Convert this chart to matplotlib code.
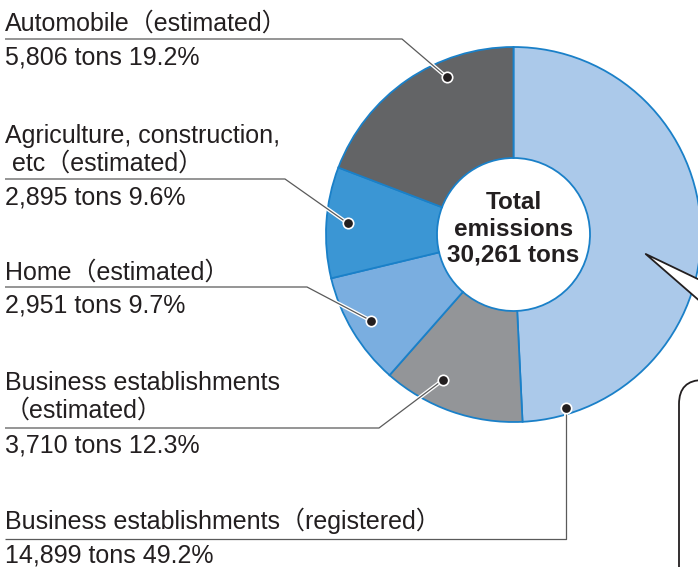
import matplotlib
matplotlib.use('Agg')
import matplotlib.pyplot as plt
import matplotlib.patheffects as pe
from matplotlib.patches import FancyBboxPatch, Polygon
import numpy as np

# Data (order: clockwise from the top of the ring)
categories = ['Business establishments（registered）',
              'Business establishments\n（estimated）',
              'Home（estimated）',
              'Agriculture, construction,\n etc（estimated）',
              'Automobile（estimated）']
tons = [14899, 3710, 2951, 2895, 5806]
shares = [49.2, 12.3, 9.7, 9.6, 19.2]
colors = ['#abc9ea', '#939598', '#7aaee0', '#3b96d4', '#636466']

# Layout (pixels, y downwards)
W, H = 698, 567
cx, cy = 513.5, 234.5
r_out, r_in = 187.5, 76.5
fonts = ['Liberation Sans', 'Noto Sans CJK JP']
txt_col = '#231f20'
# per label: title baseline, underline y, value baseline, elbow x, dot angle (deg), dot radius
title_y = [529, 390, 280, 143, 31]
line_y = [539, 428, 287, 179, 39]
val_y = [562.5, 453, 313, 204, 65]
elbow_x = [None, 379, 307, 285, 402]
dot_ang = [286.7, 244.1, 211.2, 176.1, 113.0]
dot_r = [181.5, 161.8, 166.5, 166.2, 170.8]

fig = plt.figure(figsize=(W / 100, H / 100), dpi=100)
ax = fig.add_axes([0, 0, 1, 1])

# ring: y axis is flipped, so start at -90 and go counterclockwise in data space
ax.pie(tons, colors=colors, startangle=-90, counterclock=True,
       radius=r_out, center=(cx, cy),
       wedgeprops=dict(width=r_out - r_in, edgecolor='#1a80c8', linewidth=1.3))
ax.set_xlim(0, W)
ax.set_ylim(H, 0)
ax.set_aspect('equal')
ax.axis('off')

ax.text(cx, 229, f"Total\nemissions\n{sum(tons):,} tons", ha='center', va='center',
        fontsize=17.5, weight='bold', linespacing=1.18, color=txt_col, family=fonts)

halo = [pe.Stroke(linewidth=2.8, foreground='white'), pe.Normal()]
for i, cat in enumerate(categories):
    lines = cat.split('\n')
    for j, ln in enumerate(lines):
        ax.text(5, title_y[i] + 27.5 * j, ln, fontsize=18, color=txt_col,
                family=fonts, va='baseline', ha='left', zorder=5)
    ax.text(5, val_y[i], f"{tons[i]:,} tons {shares[i]}%", fontsize=18,
            color=txt_col, family=fonts, va='baseline', ha='left', zorder=5)

    a = np.radians(dot_ang[i])
    dx = cx + dot_r[i] * np.cos(a)
    dy = cy - dot_r[i] * np.sin(a)
    ex = dx if elbow_x[i] is None else elbow_x[i]
    ax.plot([5, ex, dx], [line_y[i], line_y[i], dy], color='#5a5a5a', lw=0.9,
            path_effects=halo, zorder=4, solid_capstyle='butt')
    ax.plot(dx, dy, 'o', ms=7.5, mfc=txt_col, mec='white', mew=1.2, zorder=6)

# speech bubble on the right edge
tip = (645.7, 254)
ax.add_patch(Polygon([tip, (702, 281), (702, 303)], closed=True, fc='white', ec='none', zorder=7))
ax.plot([702, tip[0], 702], [281, tip[1], 303], color=txt_col, lw=1.3, zorder=8)
ax.add_patch(FancyBboxPatch((679, 380), 120, 300, boxstyle='round,pad=0,rounding_size=24',
                            fc='none', ec=txt_col, lw=1.3, zorder=8))

fig.savefig('out.png', dpi=100)
